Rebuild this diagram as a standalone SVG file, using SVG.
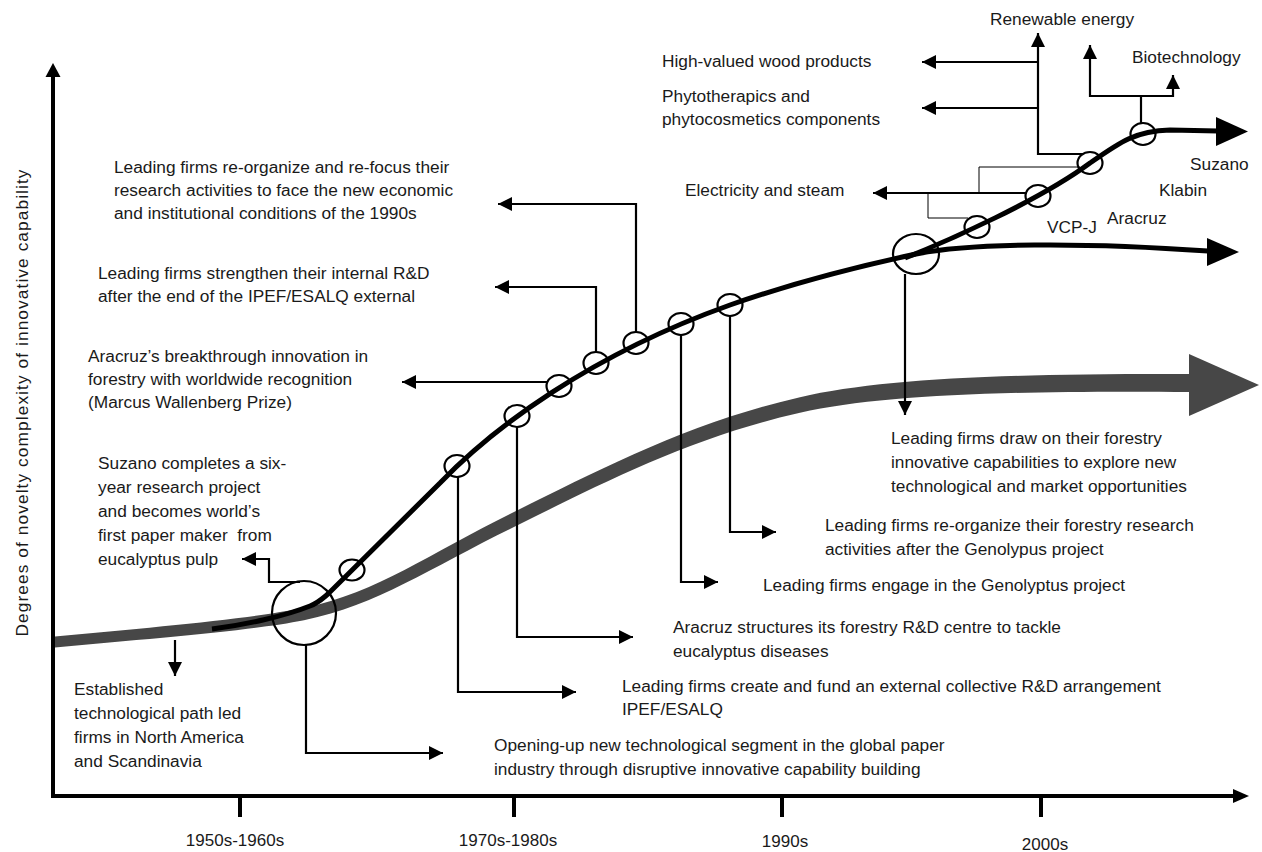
<svg xmlns="http://www.w3.org/2000/svg" width="1262" height="852" viewBox="0 0 1262 852">
<style>
  text { font-family: "Liberation Sans", Arial, sans-serif; font-size: 17.3px; fill: #1a1a1a; }
  .tick { font-size: 17px; text-anchor: middle; }
  .axis { stroke: #000; stroke-width: 4; fill: none; }
  .conn { stroke: #000; stroke-width: 2.2; fill: none; }
  .thin { stroke: #000; stroke-width: 1; fill: none; }
  .ring { stroke: #000; stroke-width: 2.2; fill: none; }
  .trend { stroke: #000; stroke-width: 5; fill: none; }
  .head { fill: #000; }
  .gray { fill: #474747; }
</style>
<defs>
  <marker id="ah" markerUnits="userSpaceOnUse" markerWidth="14" markerHeight="14" refX="14" refY="7" orient="auto">
    <path d="M0,0 L14,7 L0,14 z" fill="#000"/>
  </marker>
  <filter id="soft" x="-5%" y="-5%" width="110%" height="110%">
    <feGaussianBlur stdDeviation="0.5"/>
  </filter>
</defs>

<!-- axes -->
<g id="axes">
  <line class="axis" x1="53" y1="798" x2="53" y2="76"/>
  <polygon class="head" points="45.5,77 53,63 60.5,77"/>
  <line class="axis" x1="51" y1="796" x2="1234" y2="796"/>
  <polygon class="head" points="1233,789 1249,796 1233,803"/>
  <line class="axis" x1="240" y1="796" x2="240" y2="817"/>
  <line class="axis" x1="514" y1="796" x2="514" y2="817"/>
  <line class="axis" x1="782" y1="796" x2="782" y2="817"/>
  <line class="axis" x1="1041" y1="796" x2="1041" y2="817"/>
  <text class="tick" x="235" y="846">1950s-1960s</text>
  <text class="tick" x="508" y="846">1970s-1980s</text>
  <text class="tick" x="785" y="847">1990s</text>
  <text class="tick" x="1045" y="850">2000s</text>
  <text transform="translate(28,403) rotate(-90)" text-anchor="middle" textLength="467" lengthAdjust="spacing">Degrees of novelty complexity of innovative capability</text>
</g>

<!-- trajectories -->
<g id="trajectories">
  <path class="gray" d="M55,636.5 C150,627.5 250,619 304,607.8 C380,591.8 430,552.5 517,510.5 C600,469.5 690,422.5 800,397.2 C880,379 1000,373.5 1192,374 L1192,392 C1000,390.5 880,395 800,412.8 C690,437.5 600,484.5 517,525.5 C430,567.5 380,604.2 304,620.2 C250,631 150,638.5 55,647.5 Z" filter="url(#soft)"/>
  <polygon class="gray" points="1189,354 1259,385 1189,416"/>
  <path class="trend" d="M212,629 C245,625 285,616 310,606 C318,603 322,599 328,594 L440,483 C493,428 590,355 730,305 C790,284 860,266 916,254 C970,243 1080,242 1208,251"/>
  <polygon class="head" points="1207,238 1239,252 1207,266"/>
  <path class="trend" d="M905,258 C950,240 1040,200 1090,163 C1120,142 1135,131 1170,130 L1218,131"/>
  <polygon class="head" points="1216,117 1248,131.5 1216,146"/>
</g>

<!-- milestone rings -->
<g id="rings">
  <circle class="ring" cx="304" cy="613" r="32"/>
  <ellipse class="ring" cx="352" cy="570" rx="12.5" ry="10.5"/>
  <ellipse class="ring" cx="457" cy="466" rx="12.5" ry="11"/>
  <ellipse class="ring" cx="517" cy="416" rx="12.5" ry="11"/>
  <ellipse class="ring" cx="559" cy="386" rx="12.5" ry="11"/>
  <ellipse class="ring" cx="596" cy="363" rx="12.5" ry="11"/>
  <ellipse class="ring" cx="636" cy="343" rx="12.5" ry="11"/>
  <ellipse class="ring" cx="681" cy="324" rx="12.5" ry="11"/>
  <ellipse class="ring" cx="730" cy="305" rx="12.5" ry="11"/>
  <ellipse class="ring" cx="916" cy="254" rx="23" ry="20"/>
  <ellipse class="ring" cx="977" cy="227" rx="12.5" ry="11"/>
  <ellipse class="ring" cx="1038" cy="196" rx="12.5" ry="11"/>
  <ellipse class="ring" cx="1090" cy="163" rx="12.5" ry="11"/>
  <ellipse class="ring" cx="1143" cy="134" rx="12.5" ry="11"/>
</g>

<!-- connectors -->
<g id="connectors">
  <path class="conn" d="M175,640 V676" marker-end="url(#ah)"/>
  <path class="conn" d="M300,582 H269 V559 H242" marker-end="url(#ah)"/>
  <path class="conn" d="M306,645 V753 H443" marker-end="url(#ah)"/>
  <path class="conn" d="M458,477 V692 H576" marker-end="url(#ah)"/>
  <path class="conn" d="M517,427 V637 H633" marker-end="url(#ah)"/>
  <path class="conn" d="M547,382 H402" marker-end="url(#ah)"/>
  <path class="conn" d="M596,352 V287 H495" marker-end="url(#ah)"/>
  <path class="conn" d="M636,332 V204 H498" marker-end="url(#ah)"/>
  <path class="conn" d="M681,335 V582 H718" marker-end="url(#ah)"/>
  <path class="conn" d="M730,316 V532 H776" marker-end="url(#ah)"/>
  <path class="conn" d="M905,274 V415" marker-end="url(#ah)"/>
  <path class="conn" d="M1027,193 H873" marker-end="url(#ah)"/>
  <path class="thin" d="M968,218 H928 V193"/>
  <path class="thin" d="M1080,167 H979 V193"/>
  <path class="conn" d="M1083,154 H1038 V33" marker-end="url(#ah)"/>
  <path class="conn" d="M1038,62 H922" marker-end="url(#ah)"/>
  <path class="conn" d="M1038,108 H922" marker-end="url(#ah)"/>
  <path class="conn" d="M1141,123 V96"/>
  <path class="conn" d="M1173,96 H1090 V45" marker-end="url(#ah)"/>
  <path class="conn" d="M1173,97 V75" marker-end="url(#ah)"/>
</g>

<!-- annotation nodes -->
<g id="n-refocus-1990s">
  <text x="114" y="173">Leading firms re-organize and re-focus their</text>
  <text x="114" y="196">research activities to face the new economic</text>
  <text x="114" y="219">and institutional conditions of the 1990s</text>
</g>
<g id="n-internal-rd">
  <text x="98" y="279">Leading firms strengthen their internal R&amp;D</text>
  <text x="98" y="302">after the end of the IPEF/ESALQ external</text>
</g>
<g id="n-breakthrough">
  <text x="88" y="362">Aracruz’s breakthrough innovation in</text>
  <text x="88" y="385">forestry with worldwide recognition</text>
  <text x="88" y="408">(Marcus Wallenberg Prize)</text>
</g>
<g id="n-suzano-pulp">
  <text x="98" y="469">Suzano completes a six-</text>
  <text x="98" y="493">year research project</text>
  <text x="98" y="517">and becomes world’s</text>
  <text x="98" y="541" xml:space="preserve">first paper maker  from</text>
  <text x="98" y="565">eucalyptus pulp</text>
</g>
<g id="n-established">
  <text x="74" y="695">Established</text>
  <text x="74" y="719">technological path led</text>
  <text x="74" y="743">firms in North America</text>
  <text x="74" y="767">and Scandinavia</text>
</g>
<g id="n-opening">
  <text x="494" y="751">Opening-up new technological segment in the global paper</text>
  <text x="494" y="775">industry through disruptive innovative capability building</text>
</g>
<g id="n-ipef">
  <text x="622" y="692">Leading firms create and fund an external collective R&amp;D arrangement</text>
  <text x="622" y="715">IPEF/ESALQ</text>
</g>
<g id="n-aracruz-centre">
  <text x="673" y="633">Aracruz structures its forestry R&amp;D centre to tackle</text>
  <text x="673" y="657">eucalyptus diseases</text>
</g>
<g id="n-genolyptus">
  <text x="763" y="591">Leading firms engage in the Genolyptus project</text>
</g>
<g id="n-reorganize">
  <text x="825" y="531">Leading firms re-organize their forestry research</text>
  <text x="825" y="555">activities after the Genolypus project</text>
</g>
<g id="n-draw-on">
  <text x="891" y="444">Leading firms draw on their forestry</text>
  <text x="891" y="468">innovative capabilities to explore new</text>
  <text x="891" y="492">technological and market opportunities</text>
</g>
<g id="n-electricity">
  <text x="685" y="196">Electricity and steam</text>
</g>
<g id="n-wood">
  <text x="662" y="67">High-valued wood products</text>
</g>
<g id="n-phyto">
  <text x="662" y="102">Phytotherapics and</text>
  <text x="662" y="125">phytocosmetics components</text>
</g>
<g id="n-renewable">
  <text x="990" y="25">Renewable energy</text>
</g>
<g id="n-biotech">
  <text x="1132" y="63">Biotechnology</text>
</g>
<g id="n-firms">
  <text x="1190" y="170">Suzano</text>
  <text x="1159" y="196">Klabin</text>
  <text x="1107" y="224">Aracruz</text>
  <text x="1047" y="233">VCP-J</text>
</g>
</svg>
